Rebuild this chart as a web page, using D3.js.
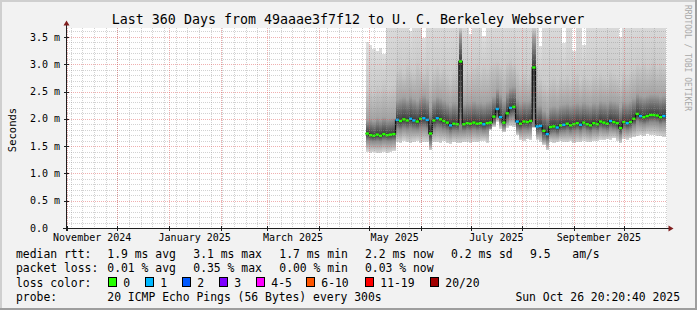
<!DOCTYPE html>
<html><head><meta charset="utf-8">
<script src="https://cdn.jsdelivr.net/npm/d3@7"></script>
<style>
html,body{margin:0;padding:0;background:#f2f2f2;}
svg{display:block;}
text{font-family:"DejaVu Sans Mono",monospace;fill:#000;white-space:pre;}
</style></head><body>
<svg id="chart" width="697" height="310"></svg>
<script>
// ---------------- data ----------------
const title = "Last 360 Days from 49aaae3f7f12 to U. C. Berkeley Webserver";
const yLabel = "Seconds";
const timeStart = "2024-10-31T21:00:00Z";
const timeEnd = "2025-10-26T21:00:00Z";
const yTicks = [0, 0.5, 1.0, 1.5, 2.0, 2.5, 3.0, 3.5];
const yTickLabels = ["0.0  ", "0.5 m", "1.0 m", "1.5 m", "2.0 m", "2.5 m", "3.0 m", "3.5 m"];
const xLabelMonths = ["2024-11-01", "2025-01-01", "2025-03-01", "2025-05-01", "2025-07-01", "2025-09-01"];
const xLabelTexts = ["November 2024", "January 2025", "March 2025", "May 2025", "July 2025", "September 2025"];

// samples: one every 2 days starting 2025-04-29 (ms)
const sampleStart = "2025-04-29T00:00:00Z";
const sampleDays = 2;
const median = [
 1.73,1.70,1.69,1.71,1.69,1.72,1.70,1.71,1.72,
 1.98,1.96,1.99,1.97,2.00,1.97,1.95,2.00,2.01,1.98,
 1.73,1.97,2.01,1.99,1.96,1.93,1.88,1.91,1.90,3.05,
 1.90,1.92,1.91,1.93,1.91,1.92,1.90,1.92,1.93,2.04,
 2.18,2.03,1.93,2.10,2.20,2.22,1.95,1.91,1.95,1.94,
 1.96,2.94,1.86,1.87,1.78,1.72,1.85,1.86,1.84,1.88,
 1.89,1.91,1.88,1.90,1.92,1.89,1.93,1.90,1.88,1.92,
 1.90,1.95,1.93,1.91,1.96,1.94,1.92,1.83,1.94,1.92,
 1.94,2.00,2.09,2.05,2.03,2.05,2.07,2.07,2.06,2.03,2.05];
const lostPings = [
 0,0,0,0,0,0,0,0,0,
 1,0,0,0,1,1,0,0,1,1,
 0,0,1,0,0,0,1,0,0,0,
 0,0,0,0,0,0,1,0,0,0,
 1,1,0,0,1,0,1,0,0,0,
 0,0,1,1,0,1,0,0,1,0,
 1,0,0,0,0,1,0,0,0,0,
 0,0,0,0,1,0,0,0,0,1,
 0,0,0,1,0,0,0,0,0,0,1];
const smokeMin = [
 1.40,1.38,1.39,1.37,1.38,1.40,1.38,1.39,1.41,
 1.58,1.56,1.60,1.57,1.55,1.58,1.60,1.56,1.58,1.57,
 1.42,1.57,1.58,1.56,1.59,1.55,1.54,1.57,1.56,1.55,
 1.57,1.58,1.56,1.58,1.57,1.59,1.60,1.56,1.80,1.85,
 1.95,1.82,1.75,1.84,1.86,1.85,1.70,1.62,1.60,1.63,
 1.61,1.84,1.62,1.58,1.52,1.42,1.58,1.56,1.57,1.59,
 1.58,1.57,1.59,1.56,1.58,1.57,1.60,1.58,1.57,1.59,
 1.60,1.62,1.61,1.63,1.62,1.64,1.60,1.55,1.63,1.62,
 1.64,1.66,1.68,1.70,1.69,1.72,1.70,1.71,1.69,1.68,1.66];
const smokeP25 = [
 1.60,1.59,1.58,1.59,1.58,1.60,1.59,1.59,1.60,
 1.82,1.80,1.83,1.81,1.83,1.81,1.80,1.83,1.84,1.82,
 1.55,1.81,1.84,1.83,1.80,1.78,1.74,1.77,1.76,1.78,
 1.77,1.79,1.78,1.80,1.78,1.79,1.77,1.79,1.82,1.92,
 2.02,1.94,1.84,1.95,2.02,2.04,1.80,1.78,1.80,1.79,
 1.81,1.86,1.73,1.74,1.62,1.58,1.72,1.73,1.71,1.75,
 1.76,1.78,1.75,1.77,1.79,1.76,1.80,1.77,1.75,1.79,
 1.77,1.82,1.80,1.78,1.83,1.81,1.79,1.70,1.81,1.79,
 1.81,1.87,1.95,1.92,1.90,1.92,1.94,1.94,1.93,1.90,1.92];
const smokeP75 = [
 1.98,2.00,1.97,2.02,1.99,2.03,2.00,2.01,2.02,
 2.35,2.38,2.40,2.36,2.42,2.37,2.33,2.40,2.44,2.38,
 2.20,2.36,2.42,2.39,2.35,2.30,2.26,2.31,2.29,3.55,
 2.28,2.31,2.30,2.33,2.30,2.31,2.29,2.32,2.34,2.42,
 2.55,2.45,2.34,2.50,2.58,2.60,2.36,2.30,2.33,2.32,
 2.34,3.50,2.24,2.25,2.16,2.10,2.22,2.24,2.21,2.26,
 2.27,2.29,2.26,2.28,2.30,2.27,2.31,2.28,2.26,2.30,
 2.28,2.33,2.31,2.29,2.34,2.32,2.30,2.21,2.32,2.30,
 2.33,2.38,2.47,2.43,2.41,2.43,2.45,2.45,2.44,2.41,2.43];
const smokeP90 = [
 2.55,2.60,2.52,2.62,2.58,2.65,2.57,2.60,2.63,
 2.90,2.95,2.85,3.00,2.92,2.88,3.05,2.94,2.86,2.97,
 2.80,2.90,2.98,2.87,2.93,2.84,2.78,2.88,2.85,3.65,
 2.82,2.90,2.86,2.95,3.02,2.88,2.96,2.92,3.00,3.05,
 3.08,3.00,2.92,3.05,3.10,3.02,2.90,2.80,2.86,2.78,
 2.82,3.65,2.72,2.76,2.68,2.64,2.74,2.78,2.70,2.80,
 2.76,2.82,2.74,2.79,2.85,2.72,2.80,2.77,2.74,2.83,
 2.78,2.86,2.80,2.75,2.90,2.84,2.79,2.70,2.88,2.82,
 2.86,2.92,3.02,2.98,3.05,2.96,3.00,3.08,2.95,3.02,2.97];
const smokeMax = [
 3.40,3.36,3.27,3.25,3.30,3.18,3.90,3.90,3.90,
 3.90,3.90,3.90,3.90,3.60,3.90,3.90,3.90,3.48,3.90,
 3.90,3.90,3.90,3.90,3.90,3.90,3.90,3.90,3.90,3.90,
 3.90,3.90,3.56,3.90,3.90,3.90,3.52,3.90,3.90,3.90,
 3.90,3.90,3.90,3.90,3.90,3.90,3.90,3.90,3.90,3.90,
 3.90,3.90,3.90,3.33,3.90,3.90,3.90,3.90,3.90,3.90,
 3.38,3.90,3.90,3.24,3.90,3.90,3.36,3.90,3.90,3.90,
 3.90,3.90,3.90,3.90,3.90,3.90,3.90,3.49,3.90,3.90,
 3.90,3.90,3.90,3.90,3.90,3.90,3.90,3.90,3.90,3.90,3.90];

const lossColors = ["#26ff00", "#00b8ff", "#0059ff", "#7e00ff", "#ff00ff", "#ff5500", "#ff0000", "#a10000"];
const lossLabels = ["0", "1", "2", "3", "4-5", "6-10", "11-19", "20/20"];
const lossUpper = [0, 1, 2, 3, 5, 10, 19, 20];

const legendRtt = ["median rtt:", "1.9 ms avg", "3.1 ms max", "1.7 ms min", "2.2 ms now", "0.2 ms sd", "9.5", "am/s"];
const legendLoss = ["packet loss:", "0.01 % avg", "0.35 % max", "0.00 % min", "0.03 % now"];
const legendProbe = ["probe:", "20 ICMP Echo Pings (56 Bytes) every 300s"];
const stamp = "Sun Oct 26 20:20:40 2025";
const watermark = "RRDTOOL / TOBI OETIKER";

// ---------------- drawing ----------------
const svg = d3.select("#chart");
const W = 697, H = 310;
const L = 67, R = 667, T = 28, B = 228;

svg.append("rect").attr("width", W).attr("height", H).attr("fill", "#f2f2f2");
svg.append("rect").attr("x",0).attr("y",0).attr("width",W).attr("height",2).attr("fill","#cfcfcf");
svg.append("rect").attr("x",0).attr("y",0).attr("width",2).attr("height",H).attr("fill","#cfcfcf");
svg.append("rect").attr("x",0).attr("y",H-2).attr("width",W).attr("height",2).attr("fill","#9e9e9e");
svg.append("rect").attr("x",W-2).attr("y",0).attr("width",2).attr("height",H).attr("fill","#9e9e9e");

const x = d3.scaleUtc().domain([new Date(timeStart), new Date(timeEnd)]).range([L, R]);
const y = d3.scaleLinear().domain([0, 200 / 54.6]).range([B, T]);

svg.append("rect").attr("x", L).attr("y", T).attr("width", R - L).attr("height", B - T).attr("fill", "#fff");

const defs = svg.append("defs");
defs.append("clipPath").attr("id", "plotclip")
  .append("rect").attr("x", L).attr("y", T).attr("width", R - L).attr("height", B - T);

const t0 = new Date(sampleStart);
const rows = median.map((m, i) => ({
  i, t: d3.utcDay.offset(t0, i * sampleDays), med: m, loss: lostPings[i],
  lo: smokeMin[i], p25: smokeP25[i], p75: smokeP75[i], p90: smokeP90[i], hi: smokeMax[i]
}));
const last = rows[rows.length - 1];
const rowsExt = rows.concat([Object.assign({}, last, { t: d3.utcDay.offset(last.t, sampleDays) })]);

// smoke: one column per sample, vertical gradient through the ping distribution
const stopsFor = d => [
  [d.hi, "#dddddd"], [d.p90, "#cbcbcb"], [d.p75, "#a3a3a3"],
  [d.med, "#3a3a3a"], [d.p25, "#8c8c8c"], [d.lo, "#d6d6d6"]
];
rows.forEach(d => {
  const y1 = y(d.hi), y2 = y(d.lo);
  const grad = defs.append("linearGradient").attr("id", "sg" + d.i)
    .attr("gradientUnits", "userSpaceOnUse").attr("x1", 0).attr("x2", 0).attr("y1", y1).attr("y2", y2);
  stopsFor(d).forEach(([v, c]) => {
    grad.append("stop").attr("offset", Math.max(0, Math.min(1, (y(v) - y1) / (y2 - y1)))).attr("stop-color", c);
  });
});
const g = svg.append("g").attr("clip-path", "url(#plotclip)");
g.selectAll("rect.smoke").data(rows).enter().append("rect")
  .attr("x", d => Math.round(x(d.t)))
  .attr("width", d => Math.round(x(d3.utcDay.offset(d.t, sampleDays))) - Math.round(x(d.t)))
  .attr("y", d => y(d.hi)).attr("height", d => y(d.lo) - y(d.hi))
  .attr("fill", d => "url(#sg" + d.i + ")").attr("shape-rendering", "crispEdges");

// grid on top
const grid = svg.append("g");
const minorY = d3.range(1, 37).map(i => i / 10).filter(v => Math.abs(v * 2 - Math.round(v * 2)) > 1e-6);
minorY.forEach(v => {
  const yy = Math.round(y(v)) + 0.5;
  grid.append("line").attr("x1", L).attr("x2", R).attr("y1", yy).attr("y2", yy)
    .attr("stroke", "rgba(143,143,143,0.4)").attr("stroke-dasharray", "1,1");
});
const weeks = d3.utcSunday.range(new Date(timeStart), new Date(timeEnd));
const months = d3.utcMonth.range(new Date(timeStart), new Date(timeEnd));
weeks.forEach(w => {
  const xx = Math.round(x(w)) + 0.5;
  grid.append("line").attr("x1", xx).attr("x2", xx).attr("y1", T).attr("y2", B)
    .attr("stroke", "rgba(143,143,143,0.4)").attr("stroke-dasharray", "1,1");
});
yTicks.slice(1).forEach(v => {
  const yy = Math.round(y(v)) + 0.5;
  grid.append("line").attr("x1", L).attr("x2", R).attr("y1", yy).attr("y2", yy)
    .attr("stroke", "rgba(222,79,79,0.45)").attr("stroke-dasharray", "1,1");
});
months.forEach(m => {
  const xx = Math.round(x(m)) + 0.5;
  grid.append("line").attr("x1", xx).attr("x2", xx).attr("y1", T).attr("y2", B)
    .attr("stroke", "rgba(222,79,79,0.45)").attr("stroke-dasharray", "1,1");
});

// median line
g.append("path").datum(rowsExt)
  .attr("d", d3.line().curve(d3.curveStepAfter).x(d => x(d.t)).y(d => y(d.med)))
  .attr("fill", "none").attr("stroke", "#111").attr("stroke-width", 1.3);
function lossIdx(n) { return lossUpper.findIndex(u => n <= u); }
g.selectAll("line.med").data(rows).enter().append("line")
  .attr("x1", d => x(d.t)).attr("x2", d => x(d3.utcDay.offset(d.t, sampleDays)))
  .attr("y1", d => y(d.med)).attr("y2", d => y(d.med))
  .attr("stroke", d => lossColors[lossIdx(d.loss)]).attr("stroke-width", 2.4);

// axes
const axisCol = "#1f1f1f", arrowCol = "#801f1f";
svg.append("line").attr("x1", 66.5).attr("x2", 66.5).attr("y1", 231).attr("y2", 24).attr("stroke", axisCol);
svg.append("line").attr("x1", 63).attr("x2", 669).attr("y1", 228.5).attr("y2", 228.5).attr("stroke", axisCol);
svg.append("path").attr("d", "M66.5,20.5 L63.5,25.5 L69.5,25.5 Z").attr("fill", arrowCol);
svg.append("path").attr("d", "M673.5,228.5 L668.5,225.5 L668.5,231.5 Z").attr("fill", arrowCol);
yTicks.forEach(v => {
  const yy = Math.round(y(v)) + 0.5;
  svg.append("line").attr("x1", 64).attr("x2", 69).attr("y1", yy).attr("y2", yy).attr("stroke", axisCol);
});
months.forEach(m => {
  const xx = Math.round(x(m)) + 0.5;
  svg.append("line").attr("x1", xx).attr("x2", xx).attr("y1", 226).attr("y2", 231).attr("stroke", axisCol);
});

yTicks.forEach((v, i) => {
  svg.append("text").attr("x", 30).attr("y", y(v) + 3.6).attr("font-size", 10).text(yTickLabels[i]);
});
xLabelMonths.forEach((m, i) => {
  const a = new Date(m + "T00:00:00Z");
  const b = d3.utcMonth.offset(a, 1);
  const c = (x(a) + x(b)) / 2;
  svg.append("text").attr("x", c).attr("y", 240.7).attr("text-anchor", "middle").attr("font-size", 10).text(xLabelTexts[i]);
});

svg.append("text").attr("x", 348).attr("y", 24).attr("text-anchor", "middle").attr("font-size", 13.3).text(title);
svg.append("text").attr("transform", "translate(15.5,130) rotate(-90)").attr("text-anchor", "middle")
  .attr("font-size", 10.5).text(yLabel);
svg.append("text").attr("transform", "translate(685,5) rotate(90)").attr("font-size", 8)
  .style("fill", "#a8a8a8").text(watermark);

// legend
const fs = 11.4;
const col = [16, 107.3, 193.3, 279.3, 365, 451, 530, 572.3];
legendRtt.forEach((s, i) => svg.append("text").attr("x", col[i]).attr("y", 258).attr("font-size", fs).text(s));
legendLoss.forEach((s, i) => svg.append("text").attr("x", col[i]).attr("y", 272.3).attr("font-size", fs).text(s));
svg.append("text").attr("x", 16).attr("y", 286.5).attr("font-size", fs).text("loss color:");
const boxX = [108.5, 145.5, 182.5, 219.5, 256.5, 306.5, 365.5, 430.5];
lossLabels.forEach((s, i) => {
  svg.append("rect").attr("x", boxX[i]).attr("y", 277.5).attr("width", 8).attr("height", 9)
    .attr("fill", lossColors[i]).attr("stroke", "#000").attr("stroke-width", 1);
  svg.append("text").attr("x", boxX[i] + 14.8).attr("y", 286.5).attr("font-size", fs).text(s);
});
svg.append("text").attr("x", col[0]).attr("y", 300.7).attr("font-size", fs).text(legendProbe[0]);
svg.append("text").attr("x", col[1]).attr("y", 300.7).attr("font-size", fs).text(legendProbe[1]);
svg.append("text").attr("x", 680).attr("y", 300.7).attr("text-anchor", "end").attr("font-size", fs).text(stamp);
</script>
</body></html>
